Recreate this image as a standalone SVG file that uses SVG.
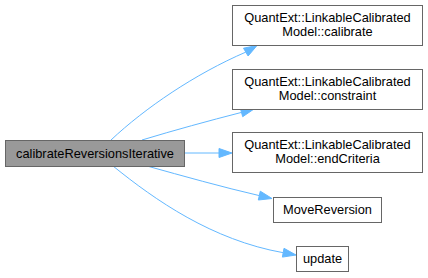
<svg xmlns="http://www.w3.org/2000/svg" width="428" height="278" viewBox="0 0 428 278">
  <style>
    .node rect { fill: #ffffff; stroke: #666666; stroke-width: 1; }
    .node.main rect { fill: #999999; }
    .node text { font-family: "Liberation Sans", Arial, sans-serif; font-size: 12.8px; fill: #000000; text-anchor: middle; }
    .edge path { fill: none; stroke: #63b8ff; stroke-width: 1; }
    .edge polygon { fill: #63b8ff; stroke: #63b8ff; stroke-width: 1; }
  </style>
  <rect width="428" height="278" fill="#ffffff"/>
  <g id="edges">
    <g class="edge">
      <path d="M111,140 C145,108 195,74 245.8,52.1"/>
      <polygon points="248.1,56 257,45.5 243.5,48.2"/>
    </g>
    <g class="edge">
      <path d="M142,140 C175,130 208,121 241.5,112.4"/>
      <polygon points="242.7,116.7 254,109 240.3,108.1"/>
    </g>
    <g class="edge">
      <path d="M184,153 L219,153"/>
      <polygon points="219,148.5 232,153 219,157.5"/>
    </g>
    <g class="edge">
      <path d="M147,166 C183,176 222,187 259.3,195.6"/>
      <polygon points="258.3,200 272,198.5 260.3,191.2"/>
    </g>
    <g class="edge">
      <path d="M113,166 C155,200 212,240 283.2,252.7"/>
      <polygon points="282.4,257.1 296,255 284,248.3"/>
    </g>
  </g>
  <g id="node-main" class="node main">
    <rect x="5.5" y="140.5" width="179" height="26"/>
    <text x="95" y="157.5">calibrateReversionsIterative</text>
  </g>
  <g id="node-calibrate" class="node">
    <rect x="232.5" y="5.5" width="190" height="40"/>
    <text x="327.5" y="22">QuantExt::LinkableCalibrated</text>
    <text x="327.5" y="36">Model::calibrate</text>
  </g>
  <g id="node-constraint" class="node">
    <rect x="232.5" y="69.5" width="190" height="40"/>
    <text x="327.5" y="86">QuantExt::LinkableCalibrated</text>
    <text x="327.5" y="100">Model::constraint</text>
  </g>
  <g id="node-endcriteria" class="node">
    <rect x="232.5" y="132.5" width="190" height="40"/>
    <text x="327.5" y="149">QuantExt::LinkableCalibrated</text>
    <text x="327.5" y="163">Model::endCriteria</text>
  </g>
  <g id="node-movereversion" class="node">
    <rect x="273.5" y="197.5" width="108" height="25"/>
    <text x="327.5" y="214">MoveReversion</text>
  </g>
  <g id="node-update" class="node">
    <rect x="296.5" y="246.5" width="52" height="25"/>
    <text x="322.5" y="263">update</text>
  </g>
</svg>
